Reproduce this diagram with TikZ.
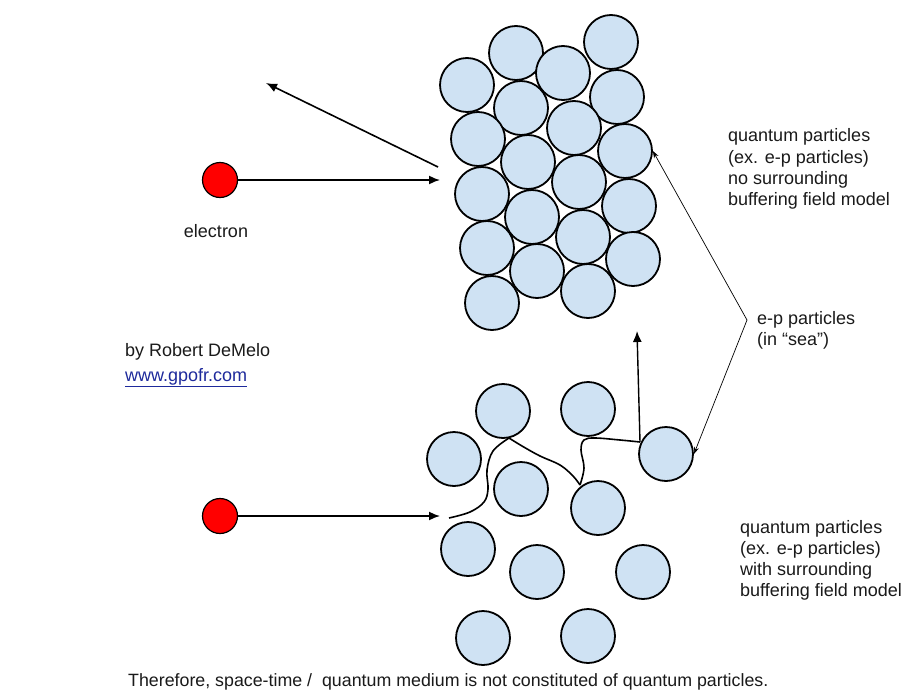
\documentclass[tikz,border=0pt]{standalone}
\usepackage{fontspec}
\setmainfont{Liberation Sans}
\usetikzlibrary{arrows.meta}
\definecolor{ballblue}{HTML}{CFE2F3}
\definecolor{linkblue}{HTML}{1E2A9C}
\definecolor{ink}{HTML}{1A1A1A}
\begin{document}
\begin{tikzpicture}[x=1pt,y=-1pt,
  ball/.style={circle,draw=black,line width=1.8pt,fill=ballblue,minimum size=54pt,inner sep=0pt},
  elec/.style={circle,draw=black,line width=1.2pt,fill=red,minimum size=35pt,inner sep=0pt},
  txt/.style={anchor=base west,inner sep=0pt,text=ink,font=\fontsize{18}{21}\selectfont},
  bigarrow/.style={line width=1.6pt,-{Latex[length=11pt,width=9pt]}},
  thinarrow/.style={line width=0.7pt,-{Stealth[length=7pt,width=5pt]}},
  wave/.style={line width=1.6pt,line join=round}
]
\useasboundingbox (0,0) rectangle (920,690);
\fill[white] (0,0) rectangle (920,690);

% packed particles (top)
\node[ball] (t1) at (611,42) {};
\node[ball] (t2) at (516,53) {};
\node[ball] (t3) at (563,73) {};
\node[ball] (t4) at (467,85) {};
\node[ball] (t5) at (617,97) {};
\node[ball] (t6) at (521,108) {};
\node[ball] (t7) at (574,128) {};
\node[ball] (t8) at (478,139) {};
\node[ball] (t9) at (625,151) {};
\node[ball] (t10) at (528,162) {};
\node[ball] (t11) at (579,182) {};
\node[ball] (t12) at (482,194) {};
\node[ball] (t13) at (629,206) {};
\node[ball] (t14) at (532,217) {};
\node[ball] (t15) at (583,237) {};
\node[ball] (t16) at (487,248) {};
\node[ball] (t17) at (633,259) {};
\node[ball] (t18) at (537,271) {};
\node[ball] (t19) at (588,291) {};
\node[ball] (t20) at (492,303) {};

% loose particles (bottom)
\node[ball] (b1) at (503,411) {};
\node[ball] (b2) at (588,409) {};
\node[ball] (b3) at (454,459) {};
\node[ball] (b4) at (666,454) {};
\node[ball] (b5) at (521,489) {};
\node[ball] (b6) at (598,508) {};
\node[ball] (b7) at (468,549) {};
\node[ball] (b8) at (537,572) {};
\node[ball] (b9) at (643,572) {};
\node[ball] (b10) at (483,638) {};
\node[ball] (b11) at (588,636) {};

% electrons
\node[elec] (eA) at (220,180) {};
\node[elec] (eB) at (220,516) {};

\coordinate (hitA) at (440,180);
\coordinate (bounceS) at (438,167);
\coordinate (bounceE) at (266,83);
\coordinate (hitB) at (440,516);
\coordinate (V) at (747,320);
\coordinate (w3) at (640,442);
\coordinate (up) at (637,331);

\draw[bigarrow] (eA) -- (hitA);
\draw[bigarrow] (bounceS) -- (bounceE);
\draw[bigarrow] (eB) -- (hitB);

% wandering path
\draw[wave] plot[smooth,tension=0.6] coordinates {(449,518) (470,512) (484,502) (488,489) (487,470) (493,451) (509,438)};
\draw[wave] plot[smooth,tension=0.6] coordinates {(509,438) (522,446) (540,456) (560,465) (573,476) (580,485)};
\draw[wave] plot[smooth,tension=0.6] coordinates {(580,485) (584,468) (581,450) (584,440) (595,438) (620,440) (640,442)};
\draw[bigarrow,line width=1.4pt] (w3) -- (up);

% thin pointers
\draw[thinarrow] (V) -- (t9.east);
\draw[thinarrow] (V) -- (b4.east);

% texts
\node[txt,anchor=base] (lblE) at (216,237) {electron};

\node[txt] (q1) at (728,142) {quantum particles};
\node[txt] (q2) at (728,163) {(ex. e-p particles)};
\node[txt] (q3) at (728,184) {no surrounding};
\node[txt] (q4) at (728,205) {buffering field model};

\node[txt] (s1) at (757,324) {e-p particles};
\node[txt] (s2) at (757,345) {(in “sea”)};

\node[txt] (r1) at (740,533) {quantum particles};
\node[txt] (r2) at (740,554) {(ex. e-p particles)};
\node[txt] (r3) at (740,575) {with surrounding};
\node[txt] (r4) at (740,596) {buffering field model};

\node[txt] (by) at (125,356) {by Robert DeMelo};
\node[txt,text=linkblue] (url) at (125,381) {\underline{www.gpofr.com}};

\node[txt,font=\fontsize{17.8}{21}\selectfont] (concl) at (128,686) {Therefore, space-time /\ \ quantum medium is not constituted of quantum particles.};
\end{tikzpicture}
\end{document}
